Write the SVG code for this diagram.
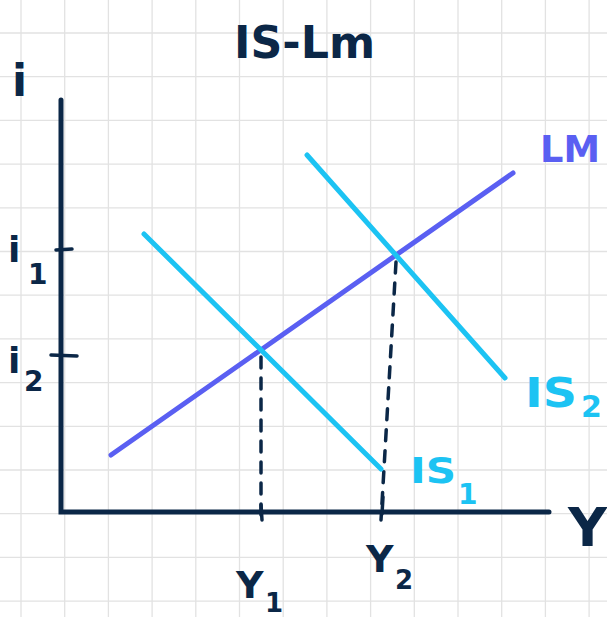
<svg xmlns="http://www.w3.org/2000/svg" width="607" height="617" viewBox="0 0 607 617">
<defs>
<style>
.grid line{stroke:#e2e2e2;stroke-width:1.3}
.ax{stroke:#0b2747;stroke-width:5;stroke-linecap:round;fill:none}
.tick{stroke:#0b2747;stroke-width:3.5;stroke-linecap:round;fill:none}
.dash{stroke:#0b2747;stroke-width:3.5;stroke-linecap:round;stroke-dasharray:11 10;fill:none}
.lm{stroke:#5a5ff2;stroke-width:5;stroke-linecap:round;fill:none}
.is{stroke:#1cc3f3;stroke-width:5;stroke-linecap:round;fill:none}
.t{font-family:"DejaVu Sans","Liberation Sans",sans-serif;fill:#0b2747;font-weight:bold}
.tlm{font-family:"DejaVu Sans","Liberation Sans",sans-serif;fill:#5a5ff2;font-weight:bold}
.tis{font-family:"DejaVu Sans","Liberation Sans",sans-serif;fill:#1cc3f3;font-weight:bold}
</style>
</defs>
<rect width="607" height="617" fill="#ffffff"/>
<g class="grid">
<line x1="21" y1="0" x2="21" y2="617"/><line x1="64.7" y1="0" x2="64.7" y2="617"/><line x1="108.4" y1="0" x2="108.4" y2="617"/><line x1="152.1" y1="0" x2="152.1" y2="617"/><line x1="195.8" y1="0" x2="195.8" y2="617"/><line x1="239.5" y1="0" x2="239.5" y2="617"/><line x1="283.2" y1="0" x2="283.2" y2="617"/><line x1="326.9" y1="0" x2="326.9" y2="617"/><line x1="370.6" y1="0" x2="370.6" y2="617"/><line x1="414.3" y1="0" x2="414.3" y2="617"/><line x1="458" y1="0" x2="458" y2="617"/><line x1="501.7" y1="0" x2="501.7" y2="617"/><line x1="545.4" y1="0" x2="545.4" y2="617"/><line x1="589.1" y1="0" x2="589.1" y2="617"/>
<line x1="0" y1="33" x2="607" y2="33"/><line x1="0" y1="76.7" x2="607" y2="76.7"/><line x1="0" y1="120.4" x2="607" y2="120.4"/><line x1="0" y1="164.1" x2="607" y2="164.1"/><line x1="0" y1="207.8" x2="607" y2="207.8"/><line x1="0" y1="251.5" x2="607" y2="251.5"/><line x1="0" y1="295.2" x2="607" y2="295.2"/><line x1="0" y1="338.9" x2="607" y2="338.9"/><line x1="0" y1="382.6" x2="607" y2="382.6"/><line x1="0" y1="426.3" x2="607" y2="426.3"/><line x1="0" y1="470" x2="607" y2="470"/><line x1="0" y1="513.7" x2="607" y2="513.7"/><line x1="0" y1="557.4" x2="607" y2="557.4"/><line x1="0" y1="601.1" x2="607" y2="601.1"/>
</g>
<g id="axes">
<path class="ax" d="M61 100 L61 512 L549 512"/>
</g>
<g id="connectors">
<path class="dash" d="M261 357 L261 522"/>
<path class="dash" d="M396 262 L381 520"/>
<path class="tick" d="M56 250 L72 249"/>
<path class="tick" d="M51 355 L77 356"/>
<path class="tick" d="M261 505 L262 520"/>
<path class="tick" d="M383 497 L382 514"/>
</g>
<g id="LM"><path class="lm" d="M111 455 L513 173"/></g>
<g id="IS1"><path class="is" d="M144 234 L381 469"/></g>
<g id="IS2"><path class="is" d="M307 155 L505 378"/></g>
<g id="title"><text class="t" x="234" y="58" font-size="44" textLength="141" lengthAdjust="spacingAndGlyphs">IS-Lm</text></g>
<g id="label-i"><text class="t" x="12" y="96" font-size="44">i</text></g>
<g id="label-Y"><text class="t" x="568" y="546" font-size="54">Y</text></g>
<g id="label-i1"><text class="t" x="8" y="262" font-size="36">i</text><text class="t" x="28" y="284" font-size="28">1</text></g>
<g id="label-i2"><text class="t" x="8" y="373" font-size="36">i</text><text class="t" x="24" y="391" font-size="28">2</text></g>
<g id="label-LM"><text class="tlm" x="540" y="162" font-size="38" textLength="60" lengthAdjust="spacingAndGlyphs">LM</text></g>
<g id="label-IS2"><text class="tis" x="525" y="407" font-size="40" textLength="52" lengthAdjust="spacingAndGlyphs">IS</text><text class="tis" x="581" y="417" font-size="30">2</text></g>
<g id="label-IS1"><text class="tis" x="410" y="483" font-size="36" textLength="46" lengthAdjust="spacingAndGlyphs">IS</text><text class="tis" x="458" y="504" font-size="28">1</text></g>
<g id="label-Y1"><text class="t" x="236" y="598" font-size="38">Y</text><text class="t" x="265" y="612" font-size="26">1</text></g>
<g id="label-Y2"><text class="t" x="366" y="572" font-size="38">Y</text><text class="t" x="395" y="589" font-size="26">2</text></g>
</svg>
